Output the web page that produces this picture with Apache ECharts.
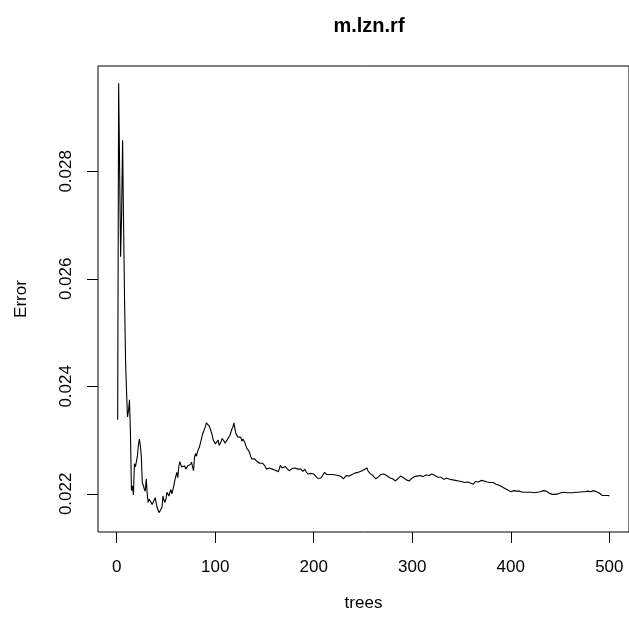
<!DOCTYPE html>
<html>
<head>
<meta charset="utf-8">
<script src="https://cdn.jsdelivr.net/npm/echarts@6/dist/echarts.min.js"></script>
<style>
html,body{margin:0;padding:0;background:#fff;}
#chart{width:629px;height:619px;}
</style>
</head>
<body>
<div id="chart"></div>
<script>
// ---- data ----
var chartTitle = 'm.lzn.rf';
var xName = 'trees';
var yName = 'Error';
var xTicks = [0, 100, 200, 300, 400, 500];
var yTicks = [0.022, 0.024, 0.026, 0.028];
var xLimits = [-18.96, 519.96];
var yLimits = [0.02129, 0.02996];

// OOB error for trees 1..500
var errTrees1to50 = [
0.02338,0.02964,0.02800,0.02641,0.02720,0.02858,0.02700,0.02560,0.02448,0.02390,
0.02343,0.02355,0.02375,0.02310,0.02206,0.02215,0.02198,0.02256,0.02250,0.02247,
0.02270,0.02290,0.02302,0.02290,0.02270,0.02220,0.02216,0.02209,0.02205,0.02228,
0.02200,0.02184,0.02190,0.02188,0.02184,0.02180,0.02180,0.02188,0.02193,0.02190,
0.02175,0.02170,0.02165,0.02163,0.02162,0.02175,0.02196,0.02188,0.02184,0.02190];
var errTrees51to100 = [
0.02203,0.02200,0.02196,0.02203,0.02208,0.02200,0.02203,0.02215,0.02225,0.02225,
0.02240,0.02230,0.02250,0.02260,0.02260,0.02250,0.02250,0.02248,0.02252,0.02246,
0.02248,0.02252,0.02253,0.02250,0.02255,0.02259,0.02250,0.02243,0.02268,0.02275,
0.02270,0.02278,0.02283,0.02287,0.02295,0.02302,0.02310,0.02315,0.02320,0.02325,
0.02332,0.02330,0.02329,0.02326,0.02324,0.02315,0.02309,0.02300,0.02302,0.02293];
var errTrees101to150 = [
0.02290,0.02295,0.02300,0.02290,0.02290,0.02297,0.02303,0.02305,0.02298,0.02294,
0.02296,0.02300,0.02298,0.02302,0.02309,0.02315,0.02321,0.02325,0.02332,0.02321,
0.02312,0.02309,0.02306,0.02305,0.02307,0.02305,0.02298,0.02302,0.02300,0.02296,
0.02290,0.02285,0.02286,0.02280,0.02276,0.02270,0.02265,0.02264,0.02262,0.02265,
0.02262,0.02261,0.02258,0.02260,0.02257,0.02259,0.02260,0.02257,0.02255,0.02253];
var errTrees151to200 = [
0.02250,0.02246,0.02245,0.02248,0.02248,0.02250,0.02247,0.02246,0.02247,0.02245,
0.02244,0.02243,0.02242,0.02241,0.02246,0.02253,0.02250,0.02248,0.02250,0.02249,
0.02251,0.02248,0.02247,0.02246,0.02243,0.02242,0.02244,0.02247,0.02248,0.02246,
0.02248,0.02247,0.02245,0.02246,0.02248,0.02247,0.02246,0.02244,0.02242,0.02244,
0.02246,0.02242,0.02239,0.02237,0.02238,0.02240,0.02238,0.02237,0.02238,0.02237];
var errTrees201to250 = [
0.02234,0.02233,0.02231,0.02229,0.02227,0.02228,0.02229,0.02232,0.02234,0.02237,
0.02240,0.02239,0.02236,0.02235,0.02237,0.02236,0.02236,0.02235,0.02236,0.02235,
0.02236,0.02235,0.02233,0.02232,0.02234,0.02236,0.02234,0.02232,0.02230,0.02228,
0.02227,0.02230,0.02234,0.02233,0.02232,0.02233,0.02234,0.02236,0.02236,0.02235,
0.02237,0.02239,0.02240,0.02239,0.02240,0.02242,0.02241,0.02242,0.02243,0.02244];
var errTrees251to300 = [
0.02245,0.02247,0.02248,0.02248,0.02243,0.02240,0.02238,0.02236,0.02235,0.02234,
0.02232,0.02231,0.02228,0.02226,0.02228,0.02232,0.02235,0.02236,0.02237,0.02238,
0.02237,0.02236,0.02235,0.02234,0.02232,0.02231,0.02230,0.02229,0.02229,0.02228,
0.02226,0.02225,0.02224,0.02223,0.02226,0.02229,0.02231,0.02233,0.02232,0.02231,
0.02230,0.02229,0.02227,0.02226,0.02225,0.02224,0.02224,0.02226,0.02228,0.02230];
var errTrees301to350 = [
0.02231,0.02232,0.02233,0.02234,0.02233,0.02232,0.02233,0.02234,0.02233,0.02232,
0.02232,0.02233,0.02235,0.02235,0.02234,0.02233,0.02234,0.02236,0.02237,0.02237,
0.02236,0.02235,0.02234,0.02232,0.02231,0.02231,0.02232,0.02232,0.02231,0.02230,
0.02229,0.02227,0.02226,0.02227,0.02229,0.02228,0.02228,0.02227,0.02227,0.02226,
0.02226,0.02226,0.02225,0.02225,0.02225,0.02224,0.02224,0.02223,0.02223,0.02223];
var errTrees351to400 = [
0.02222,0.02222,0.02221,0.02222,0.02223,0.02222,0.02221,0.02220,0.02220,0.02220,
0.02219,0.02218,0.02221,0.02223,0.02221,0.02220,0.02222,0.02225,0.02225,0.02225,
0.02224,0.02224,0.02224,0.02223,0.02223,0.02222,0.02222,0.02221,0.02221,0.02222,
0.02221,0.02221,0.02220,0.02219,0.02218,0.02217,0.02217,0.02216,0.02215,0.02214,
0.02213,0.02212,0.02211,0.02210,0.02209,0.02208,0.02207,0.02206,0.02205,0.02204];
var errTrees401to450 = [
0.02204,0.02205,0.02206,0.02206,0.02206,0.02205,0.02206,0.02206,0.02205,0.02204,
0.02203,0.02203,0.02204,0.02203,0.02203,0.02203,0.02204,0.02203,0.02202,0.02202,
0.02203,0.02203,0.02202,0.02202,0.02202,0.02203,0.02203,0.02203,0.02204,0.02204,
0.02204,0.02205,0.02206,0.02207,0.02208,0.02205,0.02204,0.02203,0.02201,0.02200,
0.02199,0.02199,0.02199,0.02199,0.02199,0.02200,0.02200,0.02200,0.02201,0.02201];
var errTrees451to500 = [
0.02202,0.02202,0.02203,0.02203,0.02202,0.02202,0.02202,0.02202,0.02202,0.02202,
0.02201,0.02201,0.02202,0.02203,0.02203,0.02203,0.02204,0.02204,0.02203,0.02203,
0.02203,0.02204,0.02204,0.02204,0.02204,0.02204,0.02204,0.02205,0.02204,0.02204,
0.02204,0.02205,0.02205,0.02206,0.02206,0.02205,0.02204,0.02203,0.02202,0.02201,
0.02200,0.02198,0.02197,0.02196,0.02198,0.02197,0.02195,0.02196,0.02197,0.02196];

var errValues = [].concat(errTrees1to50, errTrees51to100, errTrees101to150,
  errTrees151to200, errTrees201to250, errTrees251to300, errTrees301to350,
  errTrees351to400, errTrees401to450, errTrees451to500);
var seriesData = errValues.map(function (v, i) { return [i + 1, v]; });

// ---- chart ----
var FONT = '"Liberation Sans", Arial, Helvetica, sans-serif';
var chart = echarts.init(document.getElementById('chart'), null, {renderer: 'canvas'});
chart.setOption({
  animation: false,
  backgroundColor: '#ffffff',
  title: {
    text: chartTitle,
    left: 364, top: 11,
    textAlign: 'center',
    textStyle: {fontFamily: FONT, fontSize: 20, fontWeight: 'bold', color: '#000'}
  },
  grid: {
    left: 98, top: 66, width: 533, height: 466,
    show: true, borderColor: '#000', borderWidth: 1, backgroundColor: 'transparent'
  },
  xAxis: {
    type: 'value',
    min: xLimits[0], max: xLimits[1],
    name: xName, nameLocation: 'middle', nameGap: 63,
    nameTextStyle: {fontFamily: FONT, fontSize: 17, color: '#000'},
    axisLine: {show: false, onZero: false},
    axisTick: {show: true, inside: false, length: 11, customValues: xTicks,
      lineStyle: {color: '#000', width: 1}},
    axisLabel: {show: true, customValues: xTicks, margin: 27,
      fontFamily: FONT, fontSize: 17, color: '#000',
      formatter: function (v) { return String(v); }},
    splitLine: {show: false}
  },
  yAxis: {
    type: 'value',
    min: yLimits[0], max: yLimits[1],
    name: yName, nameLocation: 'middle', nameGap: 68, nameRotate: 90,
    nameTextStyle: {fontFamily: FONT, fontSize: 17, color: '#000'},
    axisLine: {show: false, onZero: false},
    axisTick: {show: true, inside: false, length: 11, customValues: yTicks,
      lineStyle: {color: '#000', width: 1}},
    axisLabel: {show: true, customValues: yTicks, rotate: 90, margin: 23,
      fontFamily: FONT, fontSize: 17, color: '#000',
      formatter: function (v) { return v.toFixed(3); }},
    splitLine: {show: false}
  },
  series: [{
    type: 'line',
    data: seriesData,
    showSymbol: false,
    symbol: 'none',
    lineStyle: {color: '#000', width: 1.1},
    clip: true
  }]
});
</script>
</body>
</html>
